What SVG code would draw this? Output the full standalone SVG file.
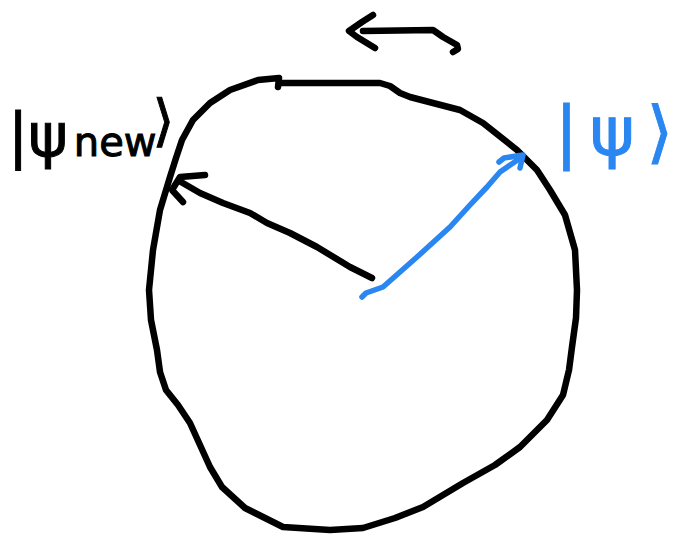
<svg xmlns="http://www.w3.org/2000/svg" width="678" height="535" viewBox="0 0 678 535">
<style>
.ink{fill:none;stroke:#000;stroke-width:6.5;stroke-linecap:round;stroke-linejoin:round}
.blue{fill:none;stroke:#2a86f0;stroke-width:5.5;stroke-linecap:round;stroke-linejoin:round}
.lbl{font-family:"DejaVu Sans","Liberation Sans",sans-serif}
</style>
<rect width="678" height="535" fill="#fff"/>
<g id="sphere">
<path class="ink" d="M278 87 L279 78 L258 80 L230 90 L210 103 L193 120 L182 140 L176 158 L170 177 L160 210 L153 250 L149 290 L151 320 L157 350 L160 372 L166 390 L178 405 L190 423 L200 445 L210 467 L222 487 L245 508 L283 527 L330 530 L363 528 L395 518 L423 507 L463 483 L495 465 L520 447 L547 420 L563 395 L569 370 L572 347 L576 318 L577 290 L575 250 L565 215 L550 190 L537 170 L517 150 L483 123 L460 110 L433 103 L410 97 L400 93 L390 86 L380 83 L282 83"/>
</g>
<g id="label-psi-new">
<text class="lbl" x="8" y="156" font-size="60" fill="#000" stroke="#000" stroke-width="1">|ψ<tspan font-size="40" dx="6">new</tspan><tspan font-size="56" dx="-4" dy="-16">⟩</tspan></text>
</g>
<g id="label-psi">
<text class="lbl" x="555" y="155" font-size="68" fill="#2a86f0" stroke="#2a86f0" stroke-width="1" textLength="118" lengthAdjust="spacing">|ψ⟩</text>
</g>
<g id="connectors">
<path class="ink" d="M372 278 L350 267 L317 247 L290 233 L267 223 L250 213 L223 203 L200 193 L181 182"/>
<path class="ink" d="M205 175 L180 177 L172 190 L183 202"/>
<path class="blue" d="M362 297 L366 293 L383 287 L417 257 L450 227 L470 205 L487 187 L500 172 L522 157"/>
<path class="blue" d="M499 162 L504 158 L523 155 L520 168"/>
<path class="ink" d="M453 52 L458 49 L457 45 L443 37 L433 30 L363 31"/>
<path class="ink" d="M373 15 L362 22 L349 31 L357 37 L375 48"/>
</g>
</svg>
